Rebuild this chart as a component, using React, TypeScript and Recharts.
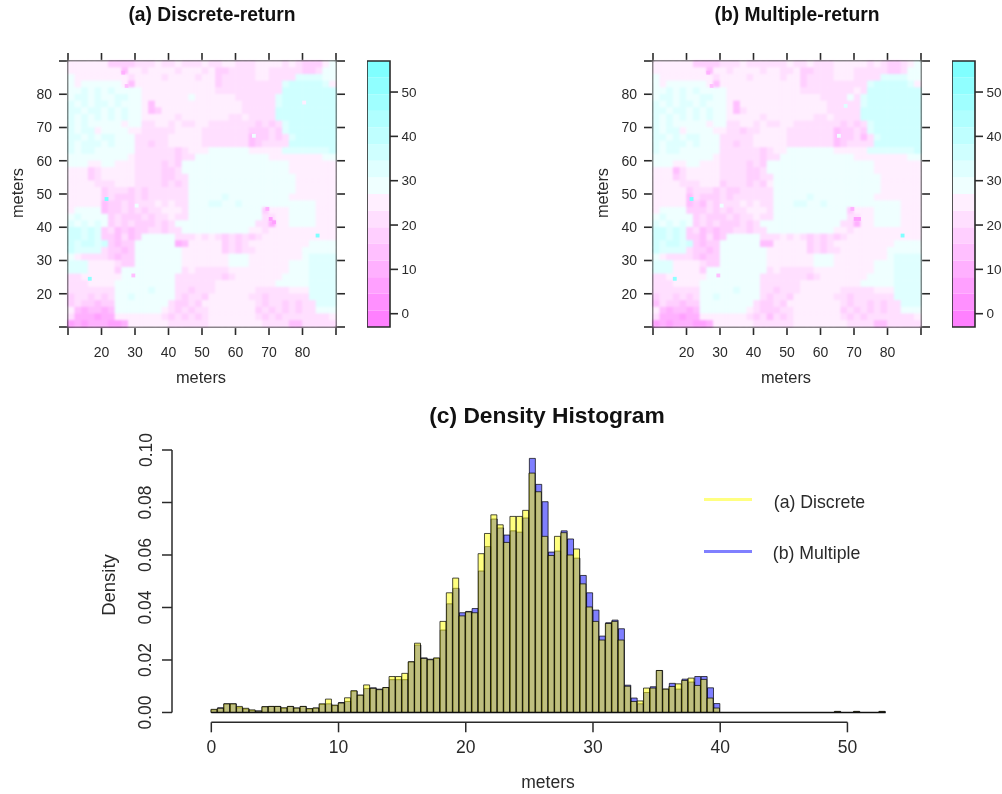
import { BarChart, Bar, ScatterChart, Scatter, XAxis, YAxis, ReferenceArea, ReferenceLine } from 'recharts'

const FONT = '"Liberation Sans", Arial, sans-serif'
const INK = '#2a2a2a'

// colour key of the two level plots: band i runs from bandEdges[i] to bandEdges[i + 1]
const bandEdges = [-3, 0.75, 4.5, 8.25, 12, 15.75, 19.5, 23.25, 27, 30.75, 34.5, 38.25, 42, 45.75, 49.5, 53.25, 57]
const bandColors = [
  '#FF80FF', '#FF90FF', '#FFA0FF', '#FFB0FF', '#FFBFFF', '#FFCFFF', '#FFDFFF', '#FFEFFF',
  '#EFFFFF', '#DFFFFF', '#CFFFFF', '#BFFFFF', '#B0FFFF', '#A0FFFF', '#90FFFF', '#80FFFF',
]
const gridTicks = [10, 20, 30, 40, 50, 60, 70, 80, 90]
const keyTicks = [0, 10, 20, 30, 40, 50]

// one hex digit per 2 m cell = colour band, top row first (spaces are only for reading)
const discreteRows = [
  '777777 5555 666766766676 6776667777676 555 78',
  '77777777 4 7767777677767 55 66667766666 55 6 88',
  '8 77777777 6 777767777677 56 6666776666 9999 88',
  '878888887 4 777777777777 56 66666666 9aaaaa9 7',
  '8 8989898 888 77777777777 66 66666666 aaaaaaaa',
  '8 9989889988 7777777877 7777 666666 9aaaaaaaa',
  '98989989888 7 4 7777777777777 66666 9aaaaaaaa',
  '99899898988 7 4 5 777777777777 66666 aaaaaaaaa',
  '98989898988 77777677777 776676 666 aaaaaaaaa',
  '989 88 888788 6677676677 6666666 5656 9aaaaaaa',
  '9899 7 8888 77 66666 7777 6666666 55565 9aaaaaaa',
  '9989899888 66666 77777 6666666 45 565 6 9aaaaaa',
  '9899989888 66566 77777 6666666 45 6666 aaaaaaa',
  '9899 888888 66666 656 7778888 8877777 999999 9a',
  '88888 88887 66666 6566 88888888 8887777 7777 88',
  '8887788777 6666 565 8888888888 8888887 77777 7',
  '777 56 77777 6666 556 8888888888888888 7777777',
  '777 56 77777 6666 556 6 8888888888888888 777777',
  '7777 666 777 6666 565 6 8888888888888888 777777',
  '77777 5666 565 666666 8888888888888888 777777',
  '77777 5655565 666666 888889888888888 7777777',
  '77777 45 5656 6676766 8889988988 88888 8888 777',
  '7 8888 45 565656 67776 88888888888 5 777 8888 777',
  '898888 5655565 66766 88888888888 66 77 8888 777',
  '98989 8 565655 5656 888888888888 66 3 77 8888 777',
  'aa9a9 564 5455 66566 8888888888 77 6 777777 7777',
  'aa9a9 554645 88888 666767 656 5656 777777777 77',
  'a9aa9a 5455 888888 34 77777 5656 777777777 8888',
  'a9999 65545 8888888 777777 565 66 7777777 88888',
  '8 76666 5455 8888888 7777777 888 77777777 89999',
  '999 7777 655 8888888 7777777 888 777777 888 9999',
  '999 7777 5 888888888 676666 6 777777777 888 9999',
  '667 77777 88888888 6666 666 56 7777777 8888 9999',
  '666 7777 888888888 666666 777777777 88888 9999',
  '6666666 888889888 665666 777777 66666 777 9999',
  '566565 6 889888888 65665 777777 66566 6666 9999',
  '565 5455 88888888 65565 77777777 65665 6566 999',
  '7434434 88888887 656566 7777777 5656565 66 888',
  '6 333233 7777777 6565656 77777776 565666 666 67',
  '232333223 777777 666666 77777777 6666 44 66666',
]
const multipleRows = [
  '777777 5555 666766666676 6766677777676 556 78',
  '77777777 4 7767777677667 55 66677766666 55 6 88',
  '8 77777777 6 777767777677 56 6667776666 9999 88',
  '878888887 4 777777777777 56 66666666 9aaaaa9 7',
  '8 8989898 888 77777777777 66 66666676 aaaaaaaa',
  '8 9989889988 7777777777 7777 666686 9aaaaaaaa',
  '98989989888 7 4 7777777777777 66666 9aaaaaaaa',
  '99899898988 7 4 6 777777777777 66666 aaaaaaaaa',
  '98989898988 77777677777 776676 666 aaaaaaaaa',
  '989 88 888788 6677676677 6666666 5656 9aaaaaaa',
  '9899 7 8888 77 66566 7777 6666666 45565 9aaaaaaa',
  '9989899888 66666 77777 6666666 45 564 6 9aaaaaa',
  '9899989888 66566 77777 6666666 45 6666 aaaaaaa',
  '9899 888888 66666 656 7788888 8877777 999999 9a',
  '88888 88887 66666 6566 88888888 8887777 7777 88',
  '8887788777 6666 565 8888888888 8888887 77777 7',
  '777 46 77777 6666 556 8888888888888888 7777777',
  '777 56 77777 6666 556 6 8888888888888888 777777',
  '7777 666 777 5666 565 7 8888888888888888 777777',
  '77777 5666 565 566666 8888888888888888 777777',
  '77777 4655565 666666 888889888888888 7777777',
  '77777 45 4656 6676766 8889988988 88888 8888 777',
  '7 8888 55 565656 67776 88888888888 5 777 8888 777',
  '898888 5655565 66766 88888888888 66 77 8888 777',
  '98989 8 565655 5656 888888888888 66 3 77 8888 777',
  'aa9a9 564 5455 66566 8888888888 77 6 777777 7777',
  'aa9a9 554645 88888 666767 656 5656 777777777 77',
  'a9aa9a 5455 888888 44 77777 5656 777777777 8888',
  'a9999 65545 8888888 777777 565 66 7777777 88888',
  '8 76666 5455 8888888 7777777 888 77777777 89999',
  '999 7777 655 8888888 7777777 888 777777 888 9999',
  '999 7777 5 888888888 676666 6 777777777 888 9999',
  '667 77777 88888888 6666 666 56 7777777 8888 9999',
  '666 7777 888888888 666666 777777777 88888 9999',
  '6666666 888889888 665666 777777 66666 777 9999',
  '566565 6 889888888 65665 777777 66566 6666 9999',
  '465 5455 88888888 65565 77777777 65665 6566 999',
  '7434434 88888887 655566 7777777 5656565 66 888',
  '6 333233 7777777 6564656 77777776 565666 666 67',
  '232333223 777777 666666 77777777 6666 44 66666',
]
// isolated 1 m cells that stand out from their 2 m neighbourhood: [x, y, band]
const discreteSpecks = [
  [21.5, 48.5, 15], [84.5, 37.5, 15], [16.5, 24.5, 14], [65.5, 67.5, 8], [70.5, 42.5, 2], [71.5, 41.5, 2],
  [69.5, 45.5, 3], [26.5, 86.5, 3], [27.5, 82.5, 4], [29.5, 25.5, 4], [80.5, 77.5, 7], [30.5, 46.5, 8],
]
const multipleSpecks = [
  [21.5, 48.5, 15], [84.5, 37.5, 15], [16.5, 24.5, 14], [65.5, 67.5, 8], [70.5, 42.5, 2], [71.5, 42.5, 2],
  [69.5, 45.5, 3], [26.5, 86.5, 3], [27.5, 82.5, 4], [29.5, 25.5, 4], [67.5, 76.5, 9], [30.5, 46.5, 8],
]

// density histogram, 0.5 m bins from 0 m
const discreteDensity = [
  0.0012, 0.0016, 0.0033, 0.0033, 0.0023, 0.0016, 0.001, 0.0005, 0.0022, 0.0023,
  0.0023, 0.0018, 0.0023, 0.0017, 0.0023, 0.0015, 0.0017, 0.0033, 0.0051, 0.0028,
  0.0036, 0.0056, 0.0083, 0.0066, 0.0105, 0.0092, 0.0087, 0.0095, 0.0137, 0.0137,
  0.0149, 0.0193, 0.0264, 0.0206, 0.0201, 0.0208, 0.0347, 0.0456, 0.0512, 0.0368,
  0.0383, 0.038, 0.0605, 0.0682, 0.0753, 0.0715, 0.0648, 0.0747, 0.0747, 0.077,
  0.0912, 0.0841, 0.0671, 0.0598, 0.0671, 0.0685, 0.06, 0.0623, 0.049, 0.0402,
  0.0347, 0.0276, 0.0339, 0.0347, 0.0276, 0.01, 0.0042, 0.0044, 0.0093, 0.0093,
  0.016, 0.0089, 0.0099, 0.0109, 0.0122, 0.0131, 0.0103, 0.0126, 0.0055, 0.0017,
]
const multipleDensity = [
  0.001, 0.0018, 0.0033, 0.0033, 0.0018, 0.0013, 0.0007, 0.0006, 0.0022, 0.0023,
  0.0023, 0.0016, 0.0023, 0.0017, 0.0023, 0.0013, 0.0017, 0.0031, 0.0033, 0.0026,
  0.0038, 0.0042, 0.0081, 0.0066, 0.0091, 0.0094, 0.0089, 0.0095, 0.0125, 0.0125,
  0.0125, 0.0193, 0.0257, 0.0208, 0.0203, 0.0206, 0.0314, 0.0414, 0.0473, 0.038,
  0.0385, 0.0396, 0.0539, 0.0632, 0.0737, 0.0703, 0.0676, 0.0692, 0.0687, 0.0741,
  0.0968, 0.0869, 0.0803, 0.0611, 0.0615, 0.0692, 0.0661, 0.0588, 0.0522, 0.0456,
  0.039, 0.0291, 0.0342, 0.0352, 0.0319, 0.0104, 0.0055, 0.0033, 0.0076, 0.0098,
  0.016, 0.0089, 0.0111, 0.0089, 0.0127, 0.0116, 0.0137, 0.0137, 0.0094, 0.0034,
]
// the few height outliers past 40 m, same in both series
const tailBins = [98, 101, 105]
const tailDensity = [0.0004, 0.0004, 0.0004]
const densityTicks = [0, 0.02, 0.04, 0.06, 0.08, 0.1]
const meterTicks = [0, 10, 20, 30, 40, 50]

const BIN_COUNT = 106
const histData = Array.from({ length: BIN_COUNT }, (_, i) => {
  const tail = tailBins.indexOf(i)
  return {
    mid: i * 0.5 + 0.25,
    discrete: tail >= 0 ? tailDensity[tail] : discreteDensity[i] ?? 0,
    multiple: tail >= 0 ? tailDensity[tail] : multipleDensity[i] ?? 0,
  }
})

const PX_X = 268 / 80
const PX_Y = 266 / 80

function rowsToCells(rows: string[]) {
  const cells: { x: number; y: number; band: number; size: number }[] = []
  rows.forEach((row, r) => {
    row.replace(/ /g, '').split('').forEach((c, k) => {
      cells.push({ x: 11 + k * 2, y: 89 - r * 2, band: parseInt(c, 16), size: 2 })
    })
  })
  return cells
}

function HeatCell(props: any) {
  const { cx, cy, payload } = props
  const w = payload.size * PX_X
  const h = payload.size * PX_Y
  return (
    <rect
      x={cx - w / 2 - 0.25}
      y={cy - h / 2 - 0.25}
      width={w + 0.5}
      height={h + 0.5}
      fill={bandColors[payload.band]}
    />
  )
}

const frameTick = { fontSize: 14, fill: INK, fontFamily: FONT }
const edgeLabel = (v: number) => (v === 10 || v === 90 ? '' : String(v))
const NoMark = () => null
// keeps an axis bound to a series so that Recharts draws it
const anchorPoint = [{ x: 50, y: 50 }]

function LevelPlot({ left, rows, specks }: { left: number; rows: string[]; specks: number[][] }) {
  const speckCells = specks.map(([x, y, band]) => ({ x, y, band, size: 1 }))
  return (
    <div style={{ position: 'absolute', left, top: 0 }}>
      <ScatterChart width={360} height={370} margin={{ top: 53, right: 14, bottom: 0, left: 28 }}>
        <XAxis
          dataKey="x" type="number" domain={[10, 90]} ticks={gridTicks} interval={0} height={43}
          tickSize={8} tickMargin={12} stroke={INK} strokeWidth={1.6} tick={frameTick} tickFormatter={edgeLabel}
        />
        <XAxis
          xAxisId="top" dataKey="x" orientation="top" type="number" domain={[10, 90]} ticks={gridTicks} interval={0} height={8}
          tickSize={8} stroke={INK} strokeWidth={1.6} tickFormatter={() => ''}
        />
        <YAxis
          dataKey="y" type="number" domain={[10, 90]} ticks={gridTicks} interval={0} width={40}
          tickSize={9} tickMargin={7} stroke={INK} strokeWidth={1.6} tick={frameTick} tickFormatter={edgeLabel}
        />
        <YAxis
          yAxisId="right" dataKey="y" orientation="right" type="number" domain={[10, 90]} ticks={gridTicks} interval={0} width={10}
          tickSize={9} stroke={INK} strokeWidth={1.6} tickFormatter={() => ''}
        />
        <ReferenceArea x1={10} x2={90} y1={10} y2={90} fill="#FFF4FF" fillOpacity={1} />
        <Scatter data={anchorPoint} xAxisId="top" yAxisId="right" shape={NoMark} isAnimationActive={false} />
        <Scatter className="soft-cells" data={rowsToCells(rows)} shape={HeatCell} isAnimationActive={false} />
        <Scatter data={speckCells} shape={HeatCell} isAnimationActive={false} />
        <ReferenceArea x1={10} x2={90} y1={10} y2={90} fill="none" stroke={INK} strokeWidth={1.6} />
      </ScatterChart>
    </div>
  )
}

function ColorKey({ left }: { left: number }) {
  return (
    <div style={{ position: 'absolute', left, top: 0 }}>
      <ScatterChart width={70} height={340} margin={{ top: 61, right: 0, bottom: 13, left: 0 }}>
        <XAxis dataKey="x" type="number" domain={[0, 1]} hide />
        <YAxis
          dataKey="y" orientation="right" type="number" domain={[-3, 57]} ticks={keyTicks} interval={0} width={47}
          tickSize={8} tickMargin={3.5} axisLine={false} stroke={INK} strokeWidth={1.6}
          tick={{ fontSize: 13.5, fill: INK, fontFamily: FONT }}
        />
        <Scatter data={[{ x: 0.5, y: 0 }]} shape={NoMark} isAnimationActive={false} />
        {bandColors.map((color, i) => (
          <ReferenceArea key={color} x1={0} x2={1} y1={bandEdges[i]} y2={bandEdges[i + 1]} fill={color} fillOpacity={1} />
        ))}
        <ReferenceArea x1={0} x2={1} y1={-3} y2={57} fill="none" stroke={INK} strokeWidth={1.6} />
      </ScatterChart>
    </div>
  )
}

function DensityTick({ x, y, payload }: any) {
  const bx = x - 8.5
  return (
    <text
      x={bx}
      y={y}
      transform={`rotate(-90 ${bx} ${y})`}
      textAnchor="middle"
      fontSize={17.5}
      fontFamily={FONT}
      fill={INK}
    >
      {payload.value.toFixed(2)}
    </text>
  )
}

const HIST_X_MIN = -3.09
const HIST_X_MAX = 53.11
const HIST_Y_MIN = -0.00374

function DensityHistogram() {
  return (
    <div style={{ position: 'absolute', left: 0, top: 400 }}>
      <BarChart
        width={1002}
        height={394}
        data={histData}
        margin={{ top: 50, right: 115, bottom: 31.7, left: 112 }}
        barGap="-100%"
        barCategoryGap={0}
      >
        <XAxis
          dataKey="mid" type="number" domain={[HIST_X_MIN, HIST_X_MAX]} ticks={meterTicks} interval={0} height={40}
          axisLine={false} tickSize={10} tickMargin={8} stroke={INK} strokeWidth={1.5}
          tick={{ fontSize: 17.5, fill: INK, fontFamily: FONT }}
        />
        <YAxis
          type="number" domain={[HIST_Y_MIN, 0.1]} ticks={densityTicks} interval={0} width={60}
          axisLine={false} tickSize={10} stroke={INK} strokeWidth={1.5} tick={<DensityTick />}
        />
        <Bar dataKey="multiple" fill="#0000FF" fillOpacity={0.5} stroke="#000" strokeOpacity={0.7} strokeWidth={1} isAnimationActive={false} />
        <Bar dataKey="discrete" fill="#FFFF00" fillOpacity={0.5} stroke="#000" strokeOpacity={0.7} strokeWidth={1} isAnimationActive={false} />
        <ReferenceLine segment={[{ x: 0, y: 0 }, { x: 53, y: 0 }]} stroke="#111" strokeWidth={1.4} />
        <ReferenceLine segment={[{ x: 0, y: HIST_Y_MIN }, { x: 50, y: HIST_Y_MIN }]} stroke={INK} strokeWidth={1.5} />
        <ReferenceLine segment={[{ x: HIST_X_MIN, y: 0 }, { x: HIST_X_MIN, y: 0.1 }]} stroke={INK} strokeWidth={1.5} />
      </BarChart>
    </div>
  )
}

function Caption({ x, y, size, bold, rotate, children }: any) {
  return (
    <div
      style={{
        position: 'absolute', left: x, top: y, whiteSpace: 'nowrap', color: bold ? '#111' : INK,
        fontFamily: FONT, fontSize: size, fontWeight: bold ? 700 : 400, lineHeight: 1,
        transform: `translate(-50%, -50%) rotate(${rotate ?? 0}deg)`,
      }}
    >
      {children}
    </div>
  )
}

function Swatch({ y, color }: { y: number; color: string }) {
  return <div style={{ position: 'absolute', left: 704, top: y, width: 48, height: 3, background: color }} />
}

export default function App() {
  return (
    <div
      style={{
        position: 'absolute', left: 0, top: 0, width: 1002, height: 794, background: '#fff', overflow: 'hidden',
        filter: 'blur(0.45px)',
      }}
    >
      <style>{'.soft-cells { filter: blur(1.3px); }'}</style>
      <LevelPlot left={0} rows={discreteRows} specks={discreteSpecks} />
      <ColorKey left={367} />
      <LevelPlot left={585.3} rows={multipleRows} specks={multipleSpecks} />
      <ColorKey left={952} />
      <DensityHistogram />
      <Caption x={212} y={15} size={19.3} bold>(a) Discrete-return</Caption>
      <Caption x={797} y={15} size={19.3} bold>(b) Multiple-return</Caption>
      <Caption x={201} y={377} size={16.4}>meters</Caption>
      <Caption x={786} y={377} size={16.4}>meters</Caption>
      <Caption x={17} y={193} size={16.4} rotate={-90}>meters</Caption>
      <Caption x={602} y={193} size={16.4} rotate={-90}>meters</Caption>
      <Caption x={547} y={415} size={22.8} bold>(c) Density Histogram</Caption>
      <Caption x={548} y={783} size={17.5}>meters</Caption>
      <Caption x={109} y={585} size={18.5} rotate={-90}>Density</Caption>
      <Swatch y={498} color="#FFFF80" />
      <Swatch y={550} color="#8080FF" />
      <Caption x={819.5} y={503} size={17.7}>(a) Discrete</Caption>
      <Caption x={816.5} y={554} size={17.7}>(b) Multiple</Caption>
    </div>
  )
}
